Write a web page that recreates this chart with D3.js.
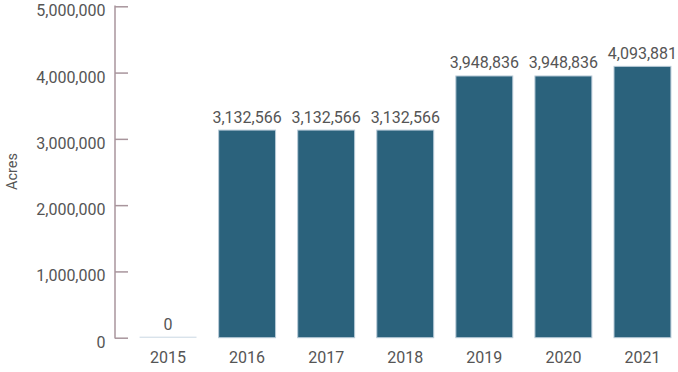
<!DOCTYPE html>
<html><head><meta charset="utf-8">
<script src="https://cdn.jsdelivr.net/npm/d3@7"></script>
<style>body{margin:0;background:#fff}svg{display:block}text{font-family:Roboto,"DejaVu Sans Condensed",sans-serif;fill:#555;font-weight:400}</style>
</head><body>
<svg id="c" width="678" height="372"></svg>
<script>
const years = ["2015","2016","2017","2018","2019","2020","2021"];
const acres = [0,3132566,3132566,3132566,3948836,3948836,4093881];
const yTicks = [0,1000000,2000000,3000000,4000000,5000000];
const yLabel = "Acres";

const svg = d3.select("#c");
const x = d3.scaleBand().domain(years).range([128.5,682]).paddingInner(0.28).paddingOuter(0.14);
const y = d3.scaleLinear().domain([0,5000000]).range([337.7,6.3]);
const fmt = d3.format(",");

// axis
const ax = svg.append("g").attr("transform","translate(115,0)")
  .call(d3.axisRight(y).tickValues(yTicks).tickSize(13).tickFormat(""));
ax.select(".domain").remove();
ax.selectAll(".tick line").attr("stroke","#a8959c").attr("stroke-width",1.5);
svg.append("line").attr("x1",115).attr("x2",115).attr("y1",y(5000000)-0.75).attr("y2",y(0)+0.75)
  .attr("stroke","#a8959c").attr("stroke-width",1.5);
svg.selectAll(".ylab").data(yTicks).join("text").attr("class","ylab")
  .attr("x",105.5).attr("y",d=>y(d)+10).attr("text-anchor","end").attr("font-size",16).text(d=>fmt(d));

// bars
svg.selectAll(".bar").data(years).join("rect").attr("class","bar")
  .attr("x",d=>x(d)).attr("width",x.bandwidth())
  .attr("y",(d,i)=>Math.min(y(acres[i]),y(0)-1)).attr("height",(d,i)=>Math.max(1,y(0)-y(acres[i])))
  .attr("fill",(d,i)=>acres[i]>0?"#2b627c":"#c9d8e3").attr("stroke","#b9cbd8").attr("stroke-width",(d,i)=>acres[i]>0?1:0);

svg.selectAll(".val").data(years).join("text").attr("class","val")
  .attr("x",d=>x(d)+x.bandwidth()/2).attr("y",(d,i)=>y(acres[i])-7.5)
  .attr("text-anchor","middle").attr("font-size",16).text((d,i)=>fmt(acres[i]));

svg.selectAll(".xlab").data(years).join("text").attr("class","xlab")
  .attr("x",d=>x(d)+x.bandwidth()/2).attr("y",362.7)
  .attr("text-anchor","middle").attr("font-size",16).text(d=>d);

svg.append("text").attr("transform","translate(16.5,171.5) rotate(-90)")
  .attr("text-anchor","middle").attr("font-size",14.5).text(yLabel);
</script>
</body></html>
